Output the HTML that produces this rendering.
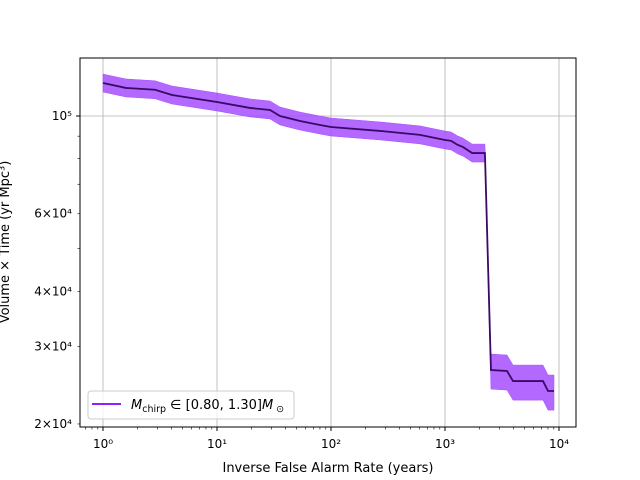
<!DOCTYPE html>
<html><head><meta charset="utf-8"><style>
body{margin:0;background:#fff}
svg{display:block;font-family:"DejaVu Sans","Liberation Sans",sans-serif}
</style></head><body>
<svg id="chart" width="640" height="480" viewBox="0 0 640 480">
<rect width="640" height="480" fill="#fff"/>
<g id="grid"></g>
<g id="series"></g>
<rect x="80" y="58" width="496" height="369" fill="none" stroke="#000" stroke-width="1"/>
<g id="axes"></g>
<text x="328" y="472" font-size="13" text-anchor="middle">Inverse False Alarm Rate (years)</text>
<text transform="translate(9,242) rotate(-90)" font-size="13" text-anchor="middle">Volume × Time (yr Mpc³)</text>
<g>
<rect x="88" y="391" width="206" height="28" rx="3" fill="#fff" fill-opacity="0.8" stroke="#ccc"/>
<line x1="92" y1="404" x2="121" y2="404" stroke="#7f00ff" stroke-width="1.8"/>
<text x="131" y="409" font-size="13"><tspan font-style="italic">M</tspan><tspan font-size="9.5" dy="3">chirp</tspan><tspan dy="-3"> ∈ [0.80, 1.30]</tspan><tspan font-style="italic">M</tspan><tspan font-size="9.5" dy="3"> ⊙</tspan></text>
</g>
</svg>
<script>
const iafr = [1,1.59,2.86,4.03,10,19.5,29.2,35.7,53.5,80.1,100,269,604,1000,1130,1290,1440,1730,2240,2530,3500,3950,7240,8010,9040];
const vt = [118800,115800,114700,111600,107600,104300,103200,100000,97400,95400,94400,92500,90600,88200,87800,86000,85000,82400,82400,26520,26380,25030,25030,23760,23760];
const upperFactor = [1.048,1.048,1.048,1.048,1.048,1.048,1.048,1.048,1.048,1.048,1.048,1.048,1.048,1.048,1.048,1.048,1.048,1.048,1.048,1.087,1.087,1.087,1.087,1.087,1.087];
const lowerFactor = [0.954,0.954,0.954,0.954,0.954,0.954,0.954,0.954,0.954,0.954,0.954,0.954,0.954,0.954,0.954,0.954,0.954,0.954,0.954,0.905,0.905,0.905,0.905,0.905,0.905];
const xTickLabels = ["10⁰","10¹","10²","10³","10⁴"];
const yTickValues = [20000,30000,40000,60000,100000];
const yTickLabels = ["2×10⁴","3×10⁴","4×10⁴","6×10⁴","10⁵"];

const NS="http://www.w3.org/2000/svg";
function X(v){return 103+114*Math.log10(v);}
function Y(v){return 116-440.6*(Math.log10(v)-5);}
function mk(tag,attrs,parent){const e=document.createElementNS(NS,tag);for(const k in attrs)e.setAttribute(k,attrs[k]);parent.appendChild(e);return e;}
const grid=document.getElementById('grid'),axes=document.getElementById('axes'),series=document.getElementById('series');

xTickLabels.forEach((lab,i)=>{
  const x=X(Math.pow(10,i));
  const g=mk('line',{x1:x,x2:x,y1:58,y2:427,stroke:'#b0b0b0','stroke-width':0.8},grid);
  
  
  mk('line',{x1:x,x2:x,y1:427,y2:431,stroke:'#000'},axes);
  const t=mk('text',{x:x,y:448,'font-size':12,'text-anchor':'middle'},axes);
  t.textContent=lab;
  
  
});
for(let d=-1;d<5;d++){for(let m=2;m<10;m++){const x=X(m*Math.pow(10,d));if(x>80&&x<576)mk('line',{x1:x,x2:x,y1:427,y2:429.5,stroke:'#000','stroke-width':0.6},axes);}}
yTickValues.forEach((v,i)=>{
  const y=Y(v);
  if(v===100000){
    const g=mk('line',{x1:80,x2:576,y1:y,y2:y,stroke:'#b0b0b0','stroke-width':0.8},grid);
    
    
    mk('line',{x1:76,x2:80,y1:y,y2:y,stroke:'#000'},axes);
  }
  const t=mk('text',{x:72,y:y+4,'font-size':12,'text-anchor':'end'},axes);
  t.textContent=yTickLabels[i];
  
  
});
[20000,30000,40000,50000,60000,70000,80000,90000].forEach(v=>{const y=Y(v);mk('line',{x1:77.5,x2:80,y1:y,y2:y,stroke:'#000','stroke-width':0.6},axes);});

let up=[],lo=[],ln=[];
for(let i=0;i<iafr.length;i++){
  up.push(X(iafr[i])+','+Y(vt[i]*upperFactor[i]));
  lo.unshift(X(iafr[i])+','+Y(vt[i]*lowerFactor[i]));
  ln.push(X(iafr[i])+','+Y(vt[i]));
}
const band=mk('polygon',{points:up.concat(lo).join(' '),fill:'#a64dff','fill-opacity':0.85,stroke:'#a64dff','stroke-width':0.5},series);


const line=mk('polyline',{points:ln.join(' '),fill:'none',stroke:'#3a0a66','stroke-width':1.8},series);


</script>
</body></html>
